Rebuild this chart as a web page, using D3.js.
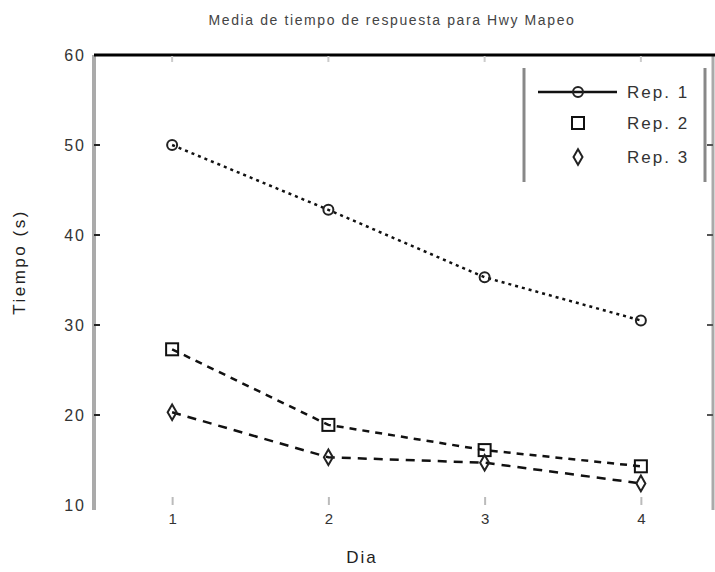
<!DOCTYPE html>
<html>
<head>
<meta charset="utf-8">
<script src="https://cdnjs.cloudflare.com/ajax/libs/d3/7.8.5/d3.min.js"></script>
<style>
  body { margin: 0; background: #fff; }
  svg { font-family: "Liberation Sans", Arial, sans-serif; }
</style>
</head>
<body>
<svg id="chart"></svg>
<script>
// data
const days = [1, 2, 3, 4];
const rep1 = [50, 42.8, 35.3, 30.5];
const rep2 = [27.3, 18.9, 16.1, 14.3];
const rep3 = [20.3, 15.3, 14.7, 12.4];
const seriesNames = ['Rep. 1', 'Rep. 2', 'Rep. 3'];
const yTicks = [10, 20, 30, 40, 50, 60];

const width = 715, height = 572;

let svg = d3.select('#chart')
    .attr('width', width)
    .attr('height', height);

const x = d3.scaleLinear().domain([0.5, 4.5]).range([94, 719]);
const y = d3.scaleLinear().domain([10, 60]).range([505, 55]);

// title
svg.append('text')
    .attr('x', 392).attr('y', 25)
    .attr('text-anchor', 'middle')
    .attr('font-size', 14)
    .attr('letter-spacing', 1.6)
    .attr('fill', '#444')
    .text('Media de tiempo de respuesta para Hwy Mapeo');

// frame: gray left & right, black top
svg.append('line')
    .attr('x1', 94).attr('x2', 94).attr('y1', 55).attr('y2', 510)
    .attr('stroke', '#aaa').attr('stroke-width', 4);
svg.append('line')
    .attr('x1', 713).attr('x2', 713).attr('y1', 55).attr('y2', 510)
    .attr('stroke', '#aaa').attr('stroke-width', 3);
svg.append('line')
    .attr('x1', 94).attr('x2', 715).attr('y1', 55).attr('y2', 55)
    .attr('stroke', '#000').attr('stroke-width', 3);

// y axis
const yAxis = svg.append('g')
    .attr('transform', 'translate(92,0)')
    .call(d3.axisLeft(y).tickValues(yTicks).tickSize(0).tickPadding(6));
yAxis.select('.domain').remove();
yAxis.selectAll('text').attr('font-size', 16).attr('letter-spacing', 2).attr('fill', '#333');

svg.selectAll('.ytick')
    .data(yTicks.slice(1, 5))
    .enter().append('line')
    .attr('x1', 94).attr('x2', 100)
    .attr('y1', d => y(d)).attr('y2', d => y(d))
    .attr('stroke', '#222').attr('stroke-width', 2);
svg.selectAll('.ytickr')
    .data(yTicks.slice(1, 5))
    .enter().append('line')
    .attr('x1', 707).attr('x2', 713)
    .attr('y1', d => y(d)).attr('y2', d => y(d))
    .attr('stroke', '#555').attr('stroke-width', 2);

// x axis (ticks only)
const xAxis = svg.append('g')
    .attr('transform', 'translate(0,497)')
    .call(d3.axisBottom(x).tickValues(days).tickSize(8).tickPadding(8).tickFormat(d3.format('d')));
xAxis.select('.domain').remove();
xAxis.selectAll('line').attr('stroke', '#bbb').attr('stroke-width', 2);
xAxis.selectAll('text').attr('font-size', 15).attr('fill', '#333');

svg.selectAll('.xtop')
    .data(days)
    .enter().append('line')
    .attr('x1', d => x(d)).attr('x2', d => x(d))
    .attr('y1', 56).attr('y2', 62)
    .attr('stroke', '#ccc').attr('stroke-width', 2);

// axis labels
svg.append('text')
    .attr('x', 362).attr('y', 563)
    .attr('text-anchor', 'middle')
    .attr('font-size', 17).attr('letter-spacing', 2).attr('fill', '#222')
    .text('Dia');
svg.append('text')
    .attr('transform', 'translate(25,262) rotate(-90)')
    .attr('text-anchor', 'middle')
    .attr('font-size', 17).attr('letter-spacing', 2.5).attr('fill', '#222')
    .text('Tiempo (s)');

// series
const series = [
    { name: seriesNames[0], values: rep1, dash: '3,4', marker: 'circle' },
    { name: seriesNames[1], values: rep2, dash: '7,6', marker: 'square' },
    { name: seriesNames[2], values: rep3, dash: '9,7', marker: 'diamond' }
];

const line = d3.line()
    .x((d, i) => x(days[i]))
    .y(d => y(d));

function drawMarker(g, type, cx, cy) {
    if (type === 'circle') {
        g.append('circle').attr('cx', cx).attr('cy', cy).attr('r', 5)
            .attr('fill', 'none').attr('stroke', '#222').attr('stroke-width', 2);
    } else if (type === 'square') {
        g.append('rect').attr('x', cx - 6).attr('y', cy - 6)
            .attr('width', 12).attr('height', 12)
            .attr('fill', 'none').attr('stroke', '#111').attr('stroke-width', 2);
    } else {
        g.append('path')
            .attr('d', d3.symbol().type(d3.symbolDiamond).size(70)())
            .attr('transform', `translate(${cx},${cy})`)
            .attr('fill', 'none').attr('stroke', '#222').attr('stroke-width', 2);
    }
}

series.forEach(s => {
    svg.append('path')
        .datum(s.values)
        .attr('d', line)
        .attr('fill', 'none')
        .attr('stroke', '#111')
        .attr('stroke-width', 2.5)
        .attr('stroke-dasharray', s.dash);
    let g = svg.append('g');
    s.values.forEach((v, i) => drawMarker(g, s.marker, x(days[i]), y(v)));
});

// legend
const legend = svg.append('g');
legend.append('line')
    .attr('x1', 524).attr('x2', 524).attr('y1', 68).attr('y2', 182)
    .attr('stroke', '#888').attr('stroke-width', 3);
legend.append('line')
    .attr('x1', 705).attr('x2', 705).attr('y1', 68).attr('y2', 182)
    .attr('stroke', '#888').attr('stroke-width', 3);
const rowY = [92, 123, 157];
legend.append('line')
    .attr('x1', 538).attr('x2', 617).attr('y1', rowY[0]).attr('y2', rowY[0])
    .attr('stroke', '#111').attr('stroke-width', 2.5);
series.forEach((s, i) => {
    drawMarker(legend, s.marker, 578, rowY[i]);
    legend.append('text')
        .attr('x', 627).attr('y', rowY[i] + 6)
        .attr('font-size', 17).attr('letter-spacing', 2)
        .attr('fill', '#333')
        .text(s.name);
});
</script>
</body>
</html>
